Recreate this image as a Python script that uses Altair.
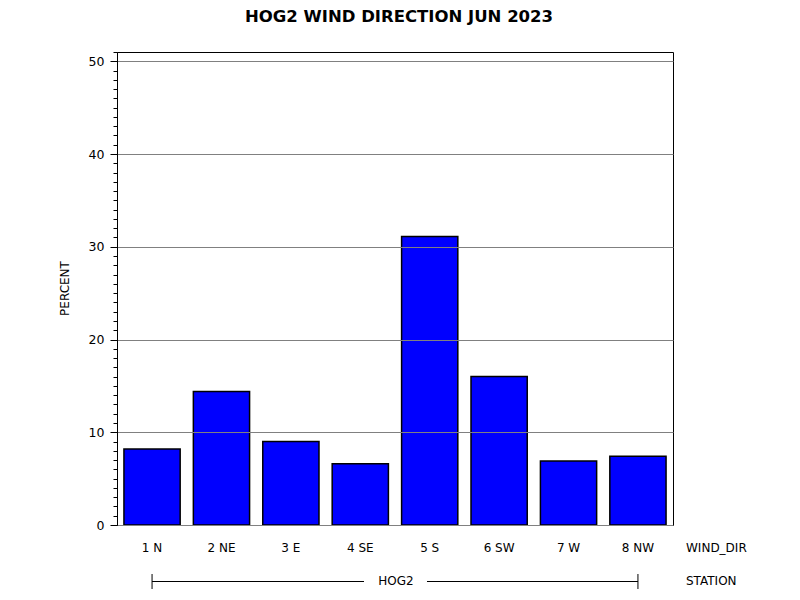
import altair as alt
import pandas as pd

wind_dir = ["1 N", "2 NE", "3 E", "4 SE", "5 S", "6 SW", "7 W", "8 NW"]
percent = [8.2, 14.4, 9.0, 6.6, 31.1, 16.0, 6.9, 7.4]
station = "HOG2"
y_ticks = list(range(0, 52))

df = pd.DataFrame({"WIND_DIR": wind_dir, "PERCENT": percent})
st = pd.DataFrame({"start": [wind_dir[0]], "end": [wind_dir[-1]], "STATION": [station]})

FONT = "DejaVu Sans"
W, H = 556, 473

xscale = alt.Scale(domain=wind_dir, paddingInner=0.19, paddingOuter=0.1)
yscale = alt.Scale(domain=[0, 51], nice=False)

bars = alt.Chart(df).mark_bar(color="#0000ff", stroke="black", strokeWidth=1.5).encode(
    x=alt.X("WIND_DIR:N", scale=xscale, sort=wind_dir,
            axis=alt.Axis(title=None, labelAngle=0, ticks=False, labelPadding=17,
                          labelFont=FONT, labelFontSize=12, labelColor="black",
                          domainColor="black", grid=False)),
    y=alt.Y("PERCENT:Q", scale=yscale,
            axis=alt.Axis(values=y_ticks, title="PERCENT", zindex=1,
                          labelExpr="datum.value % 10 === 0 ? datum.label : ''",
                          tickSize={"condition": {"test": "datum.value % 10 === 0", "value": 7}, "value": 4},
                          tickColor="black", domainColor="black",
                          grid=True, gridColor="#808080",
                          gridOpacity={"condition": {"test": "datum.value % 10 === 0", "value": 1}, "value": 0},
                          labelFont=FONT, labelFontSize=12.5, labelColor="black", labelPadding=6,
                          titleFont=FONT, titleFontSize=12, titleFontWeight="normal",
                          titleColor="black", titleAngle=270, titleX=-53, titleY=236,
                          titleAlign="center", titleBaseline="middle")),
)

base_st = alt.Chart(st)
left_rule = base_st.mark_rule(color="black").encode(
    x=alt.X("start:N", scale=xscale), x2=alt.value(247), y=alt.value(529.5))
right_rule = base_st.mark_rule(color="black").encode(
    x=alt.X("end:N", scale=xscale), x2=alt.value(310), y=alt.value(529.5))
cap_l = base_st.mark_rule(color="black").encode(
    x=alt.X("start:N", scale=xscale), y=alt.value(522), y2=alt.value(537))
cap_r = base_st.mark_rule(color="black").encode(
    x=alt.X("end:N", scale=xscale), y=alt.value(522), y2=alt.value(537))
st_label = base_st.mark_text(font=FONT, fontSize=12, color="black", baseline="middle").encode(
    x=alt.value(W / 2 + 1), y=alt.value(529), text="STATION:N")
dir_name = base_st.mark_text(font=FONT, fontSize=12, color="black", align="left", baseline="middle").encode(
    x=alt.value(569), y=alt.value(496), text=alt.value("WIND_DIR"))
st_name = base_st.mark_text(font=FONT, fontSize=12, color="black", align="left", baseline="middle").encode(
    x=alt.value(569), y=alt.value(529), text=alt.value("STATION"))

chart = alt.layer(bars, left_rule, right_rule, cap_l, cap_r, st_label, dir_name, st_name).properties(
    width=W, height=H,
    title=alt.TitleParams("HOG2 WIND DIRECTION JUN 2023", font=FONT, fontSize=16.5,
                          fontWeight="bold", color="black", anchor="middle", dx=4, offset=26),
    autosize=alt.AutoSizeParams(type="none"),
    padding={"left": 109, "top": 44, "right": 119, "bottom": 67},
    background="white",
).configure_view(stroke="black", strokeWidth=1)

chart.save("out.html", embed_options={"renderer": "svg", "actions": False})
